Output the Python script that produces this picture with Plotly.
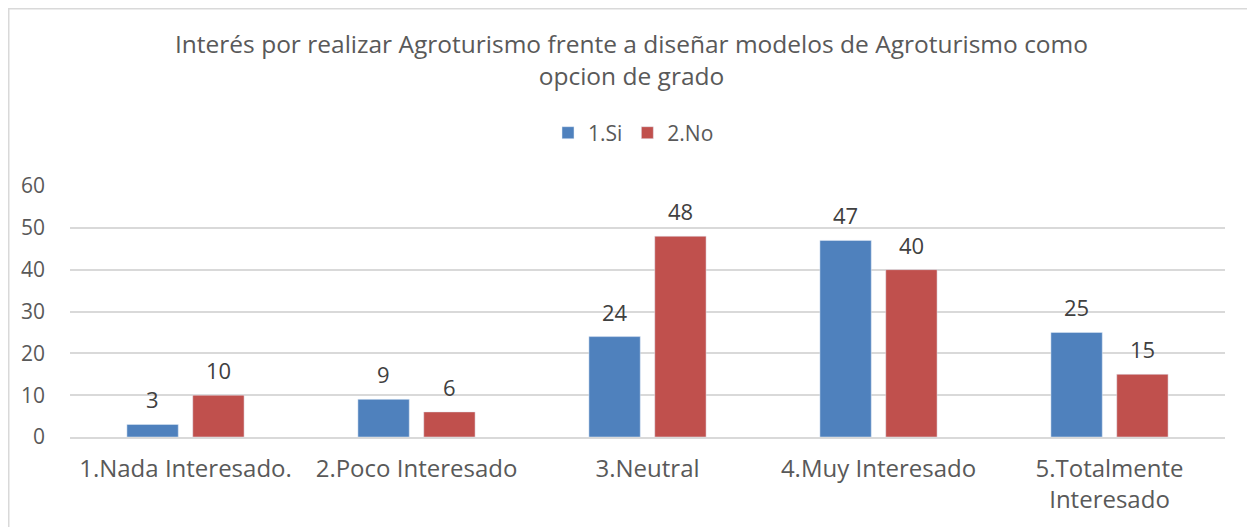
import plotly.graph_objects as go

categorias = ["1.Nada Interesado.", "2.Poco Interesado", "3.Neutral",
              "4.Muy Interesado", "5.Totalmente<br>Interesado"]
si = [3, 9, 24, 47, 25]
no = [10, 6, 48, 40, 15]

gris = "#595959"
fuente = "Open Sans"

# la página deja 8px de margen en el body, así que la figura es 8px más pequeña
ancho, alto = 1247, 519
izq, der, arriba, abajo = 62, 30, 178, 90
ancho_plot = ancho - izq - der
alto_plot = alto - arriba - abajo

fig = go.Figure()
fig.add_trace(go.Bar(x=categorias, y=si, name="1.Si", marker_color="#4F81BD"))
fig.add_trace(go.Bar(x=categorias, y=no, name="2.No", marker_color="#C0504D"))

# etiquetas de datos encima de cada barra
for serie, desplaz in ((si, -33), (no, 33)):
    for cat, val in zip(categorias, serie):
        fig.add_annotation(x=cat, y=val, text=str(val), showarrow=False,
                           xshift=desplaz, yshift=25, yanchor="middle",
                           font=dict(size=22, color="#404040", family=fuente))

fig.update_layout(
    width=ancho, height=alto,
    margin=dict(l=izq, r=der, t=arriba, b=abajo, autoexpand=False),
    paper_bgcolor="white", plot_bgcolor="white",
    font=dict(family=fuente, color=gris, size=21),
    title=dict(text="Interés por realizar Agroturismo frente a diseñar modelos de Agroturismo como<br>opcion de grado",
               x=0.5, xref="container", xanchor="center", y=1 - 45 / alto, yanchor="top",
               font=dict(size=24.5, color=gris)),
    legend=dict(orientation="h", x=(625.5 - izq) / ancho_plot, xanchor="center",
                y=1.211, yanchor="middle",
                font=dict(size=21, color=gris), itemwidth=30, traceorder="normal"),
    bargap=0.43, bargroupgap=0.22,
    showlegend=True,
)
fig.update_yaxes(range=[0, 60], dtick=10, showgrid=True, gridcolor="#d9d9d9",
                 gridwidth=1.5, zeroline=False, showline=False, automargin=False,
                 ticklabelstandoff=24, tickfont=dict(size=21, color=gris))
fig.update_xaxes(showline=True, linecolor="#d9d9d9", linewidth=1.5, automargin=False,
                 ticks="", tickangle=0, ticklabelstandoff=9,
                 tickfont=dict(size=24, color=gris))

# borde del gráfico
fig.add_shape(type="rect", xref="paper", yref="paper",
              x0=(0.75 - izq) / ancho_plot, x1=(1243 - izq) / ancho_plot,
              y0=-0.5, y1=(alto_plot + arriba - 0.75) / alto_plot,
              line=dict(color="#d9d9d9", width=1.5), layer="below")

fig.write_html("out.html", config={"displayModeBar": False})
